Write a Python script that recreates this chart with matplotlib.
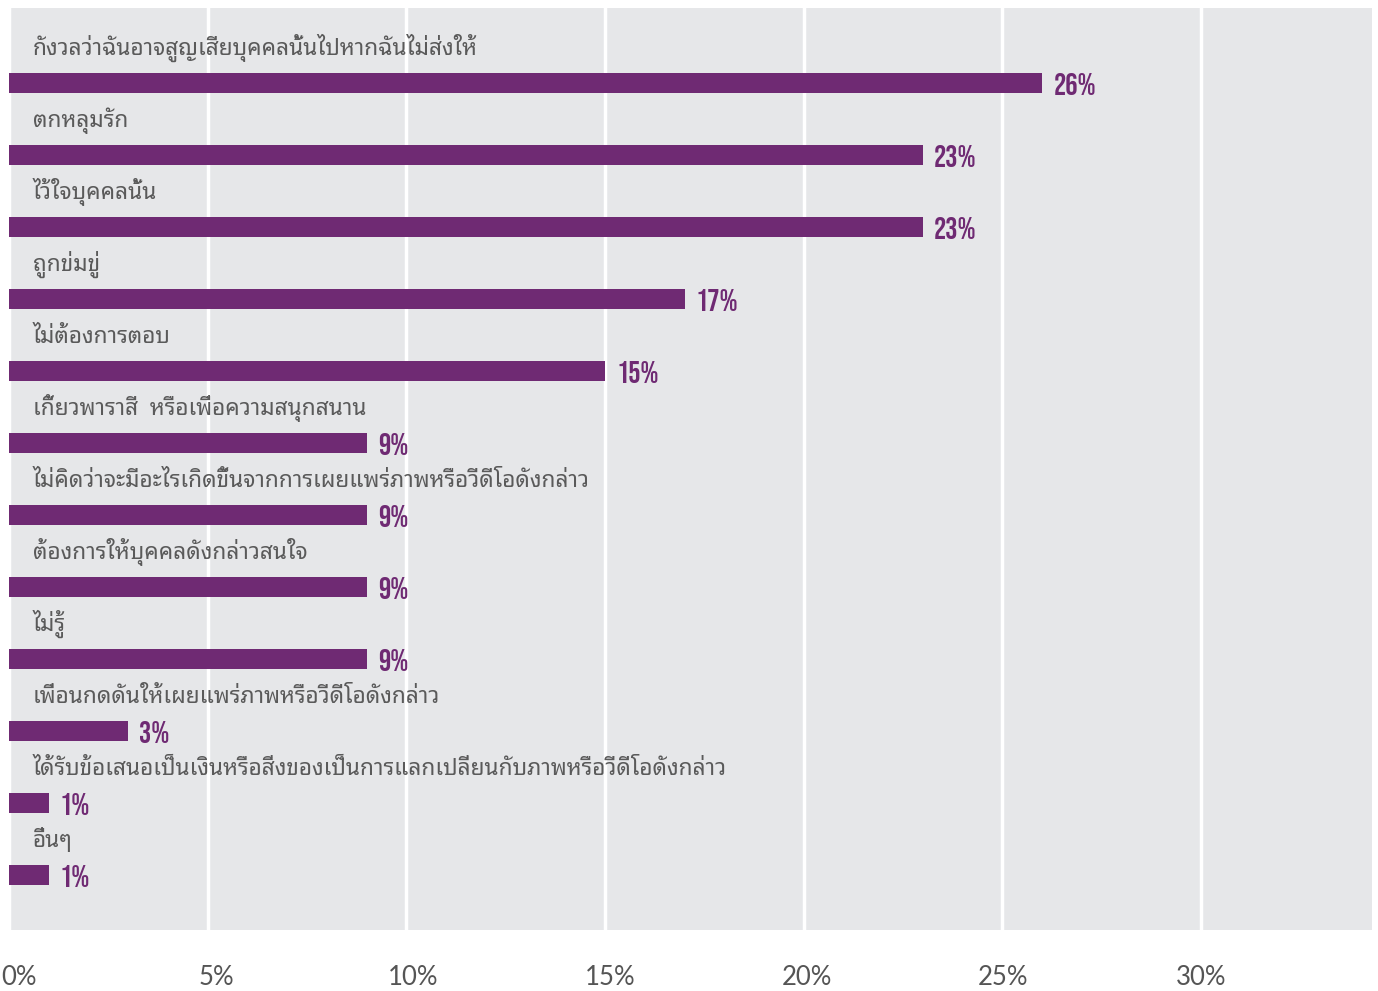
import matplotlib
matplotlib.use("Agg")
import matplotlib.pyplot as plt
from matplotlib.transforms import ScaledTranslation

labels = [
    "กังวลว่าฉันอาจสูญเสียบุคคลนั้นไปหากฉันไม่ส่งให้",
    "ตกหลุมรัก",
    "ไว้ใจบุคคลนั้น",
    "ถูกข่มขู่",
    "ไม่ต้องการตอบ",
    "เกี้ยวพาราสี  หรือเพื่อความสนุกสนาน",
    "ไม่คิดว่าจะมีอะไรเกิดขึ้นจากการเผยแพร่ภาพหรือวีดีโอดังกล่าว",
    "ต้องการให้บุคคลดังกล่าวสนใจ",
    "ไม่รู้",
    "เพื่อนกดดันให้เผยแพร่ภาพหรือวีดีโอดังกล่าว",
    "ได้รับข้อเสนอเป็นเงินหรือสิ่งของเป็นการแลกเปลี่ยนกับภาพหรือวีดีโอดังกล่าว",
    "อื่นๆ",
]
values = [26, 23, 23, 17, 15, 9, 9, 9, 9, 3, 1, 1]
ticks = [0, 5, 10, 15, 20, 25, 30]

purple = "#6f2a73"
thai_fonts = ["Noto Sans Thai Looped", "Loma", "Noto Sans Thai", "DejaVu Sans"]
num_fonts = ["Bebas Neue", "Fjalla One", "Barlow Condensed", "Oswald", "DejaVu Sans"]

fig = plt.figure(figsize=(13.78, 9.91), dpi=100)
ax = fig.add_axes([9 / 1378, 61 / 991, 1363 / 1378, 922 / 991])
ax.set_facecolor("#e6e7e9")
ax.set_xlim(0, 34.3)
ax.set_ylim(len(values) - 1 + 0.764, -1.042)

ax.barh(range(len(values)), values, height=0.28, color=purple, zorder=2)
for i, (lab, v) in enumerate(zip(labels, values)):
    ax.text(0.6, i - 0.39, lab, fontsize=16.3, color="#5a5a5a", va="baseline",
            ha="left", family=thai_fonts)
    ax.text(v + 0.28, i + 0.02, f"{v}%", fontsize=22, color=purple, fontweight="bold",
            family=num_fonts, va="center", ha="left")

ax.set_xticks(ticks)
ax.set_xticklabels([f"{t}%" for t in ticks], fontsize=18.5, color="#555555",
                   family=["Lato", "DejaVu Sans"])
ax.tick_params(axis="x", length=0, pad=25)
# tick labels sit slightly to the right of their gridlines, most at the left
shifts = [10, 9, 7, 5, 3, 1, 0]
for lbl, dx in zip(ax.get_xticklabels(), shifts):
    lbl.set_transform(lbl.get_transform() + ScaledTranslation(dx / 100, 0, fig.dpi_scale_trans))
ax.set_yticks([])
ax.grid(axis="x", color="white", linewidth=2.5, zorder=1)
for s in ax.spines.values():
    s.set_visible(False)

fig.savefig("out.png", dpi=100)
